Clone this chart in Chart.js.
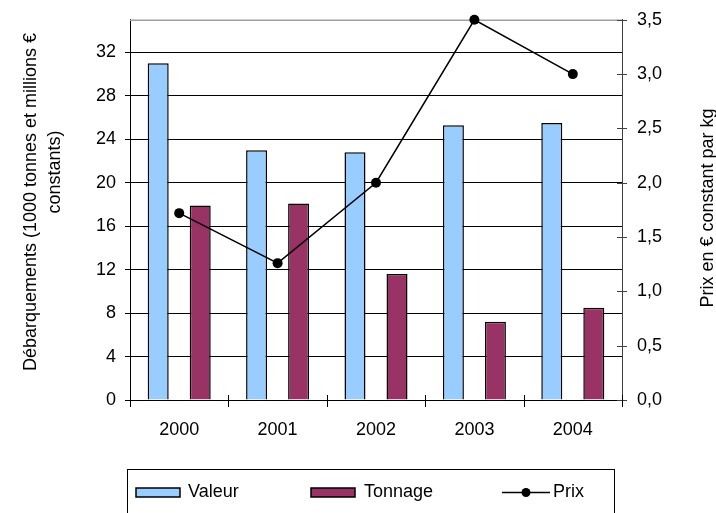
<!DOCTYPE html>
<html>
<head>
<meta charset="utf-8">
<script src="https://cdn.jsdelivr.net/npm/chart.js@4.4.1/dist/chart.umd.min.js"></script>
<style>
  html, body { margin: 0; padding: 0; background: #fff; }
  #wrap { width: 716px; height: 513px; }
</style>
</head>
<body>
<div id="wrap"><canvas id="c" width="716" height="513"></canvas></div>
<script>
// Landings (values and tonnage) and average price per year
const years = ['2000', '2001', '2002', '2003', '2004'];
const valeur = [31.0, 23.0, 22.8, 25.3, 25.5];
const tonnage = [17.9, 18.1, 11.6, 7.2, 8.5];
const prix = [1.72, 1.26, 2.0, 3.5, 3.0];
const leftTicks = [0, 4, 8, 12, 16, 20, 24, 28, 32];
const rightTicks = [0, 0.5, 1, 1.5, 2, 2.5, 3, 3.5];
const leftTitle = ['Débarquements (1000 tonnes et millions €', 'constants)'];
const rightTitle = 'Prix en € constant par kg';
const seriesNames = ['Valeur', 'Tonnage', 'Prix'];

const FONT = "'Liberation Sans', Arial, sans-serif";
const fontSpec = { family: FONT, size: 18 };

// Extra drawing: plot frame, crossing tick marks, axis titles and boxed legend
const decor = {
  id: 'decor',
  beforeDatasetsDraw(chart) {
    const { ctx, chartArea: a } = chart;
    ctx.save();
    ctx.strokeStyle = '#a0a0a0';
    ctx.lineWidth = 1.5;
    ctx.beginPath();
    ctx.moveTo(a.left, a.top + 0.5);
    ctx.lineTo(a.right, a.top + 0.5);
    ctx.stroke();
    ctx.restore();
  },
  afterDraw(chart) {
    const { ctx, chartArea: a, scales } = chart;
    ctx.save();

    // right axis tick marks crossing the axis line
    ctx.strokeStyle = '#404040';
    ctx.lineWidth = 1;
    rightTicks.forEach(v => {
      const y = Math.round(scales.y2.getPixelForValue(v)) + 0.5;
      ctx.beginPath();
      ctx.moveTo(a.right - 5, y);
      ctx.lineTo(a.right + 5, y);
      ctx.stroke();
    });

    // category separators on the bottom axis
    ctx.strokeStyle = '#000';
    const n = years.length;
    const step = (a.right - a.left) / n;
    for (let i = 0; i <= n; i++) {
      const x = Math.round(a.left + i * step) + 0.5;
      ctx.beginPath();
      ctx.moveTo(x, a.bottom - 5);
      ctx.lineTo(x, a.bottom + 7);
      ctx.stroke();
    }

    // axis titles, both reading bottom to top
    ctx.fillStyle = '#000';
    ctx.font = `18px ${FONT}`;
    ctx.textAlign = 'center';
    ctx.textBaseline = 'middle';
    const drawVertical = (text, x, y) => {
      ctx.save();
      ctx.translate(x, y);
      ctx.rotate(-Math.PI / 2);
      ctx.fillText(text, 0, 0);
      ctx.restore();
    };
    drawVertical(leftTitle[0], 31, 202);
    drawVertical(leftTitle[1], 55, 172);
    drawVertical(rightTitle, 708, 208);

    // legend box
    const ds = chart.data.datasets;
    ctx.strokeStyle = '#000';
    ctx.lineWidth = 1;
    ctx.strokeRect(127.5, 469.5, 487, 60);
    const ly = 492.5;
    ctx.textAlign = 'left';
    const swatch = (x, d) => {
      ctx.fillStyle = d.backgroundColor;
      ctx.fillRect(x, ly - 4.5, 44, 9);
      ctx.strokeStyle = '#000';
      ctx.lineWidth = 1.5;
      ctx.strokeRect(x, ly - 4.5, 44, 9);
    };
    swatch(136, ds[0]);
    ctx.fillStyle = '#000';
    ctx.fillText(seriesNames[0], 188, ly);
    swatch(311, ds[1]);
    ctx.fillStyle = '#000';
    ctx.fillText(seriesNames[1], 364, ly);
    ctx.strokeStyle = ds[2].borderColor;
    ctx.lineWidth = 1.5;
    ctx.beginPath();
    ctx.moveTo(502, ly);
    ctx.lineTo(550, ly);
    ctx.stroke();
    ctx.fillStyle = ds[2].pointBackgroundColor;
    ctx.beginPath();
    ctx.arc(526, ly, 4.5, 0, Math.PI * 2);
    ctx.fill();
    ctx.fillStyle = '#000';
    ctx.fillText(seriesNames[2], 553, ly);

    ctx.restore();
  }
};

new Chart(document.getElementById('c'), {
  data: {
    labels: years,
    datasets: [
      {
        type: 'bar', label: seriesNames[0], data: valeur, yAxisID: 'y',
        backgroundColor: '#99ccff', borderColor: '#000', borderWidth: 1.5,
        categoryPercentage: 0.854, barPercentage: 0.5, order: 2
      },
      {
        type: 'bar', label: seriesNames[1], data: tonnage, yAxisID: 'y',
        backgroundColor: '#993366', borderColor: '#000', borderWidth: 1.5,
        categoryPercentage: 0.854, barPercentage: 0.5, order: 2
      },
      {
        type: 'line', label: seriesNames[2], data: prix, yAxisID: 'y2',
        borderColor: '#000', borderWidth: 1.5, tension: 0,
        pointRadius: 5, pointBackgroundColor: '#000', pointBorderColor: '#000',
        pointBorderWidth: 0, fill: false, order: 1, clip: false
      }
    ]
  },
  options: {
    responsive: false,
    animation: false,
    devicePixelRatio: 1,
    layout: { padding: { top: 19, left: 0, right: 0, bottom: 0 } },
    plugins: { legend: { display: false }, tooltip: { enabled: false } },
    scales: {
      x: {
        type: 'category', position: 'bottom', offset: true,
        grid: { offset: true, drawOnChartArea: false, tickColor: 'transparent', tickLength: 6 },
        border: { color: '#000', width: 1 },
        ticks: { color: '#000', font: fontSpec, padding: 13, maxRotation: 0 },
        afterFit: s => { s.height = 113; }
      },
      y: {
        type: 'linear', position: 'left', min: 0, max: 35,
        afterBuildTicks: s => { s.ticks = leftTicks.map(v => ({ value: v })); },
        grid: { color: '#000', lineWidth: 1, tickColor: '#000', tickLength: 5 },
        border: { color: '#000', width: 1 },
        ticks: { color: '#000', font: fontSpec, padding: 9, callback: v => String(v) },
        afterFit: s => { s.width = 130; }
      },
      y2: {
        type: 'linear', position: 'right', min: 0, max: 3.5,
        afterBuildTicks: s => { s.ticks = rightTicks.map(v => ({ value: v })); },
        grid: { drawOnChartArea: false, tickColor: 'transparent', tickLength: 6 },
        border: { color: '#404040', width: 1 },
        ticks: { color: '#000', font: fontSpec, padding: 9, callback: v => Number(v).toFixed(1).replace('.', ',') },
        afterFit: s => { s.width = 94; }
      }
    }
  },
  plugins: [decor]
});
</script>
</body>
</html>
